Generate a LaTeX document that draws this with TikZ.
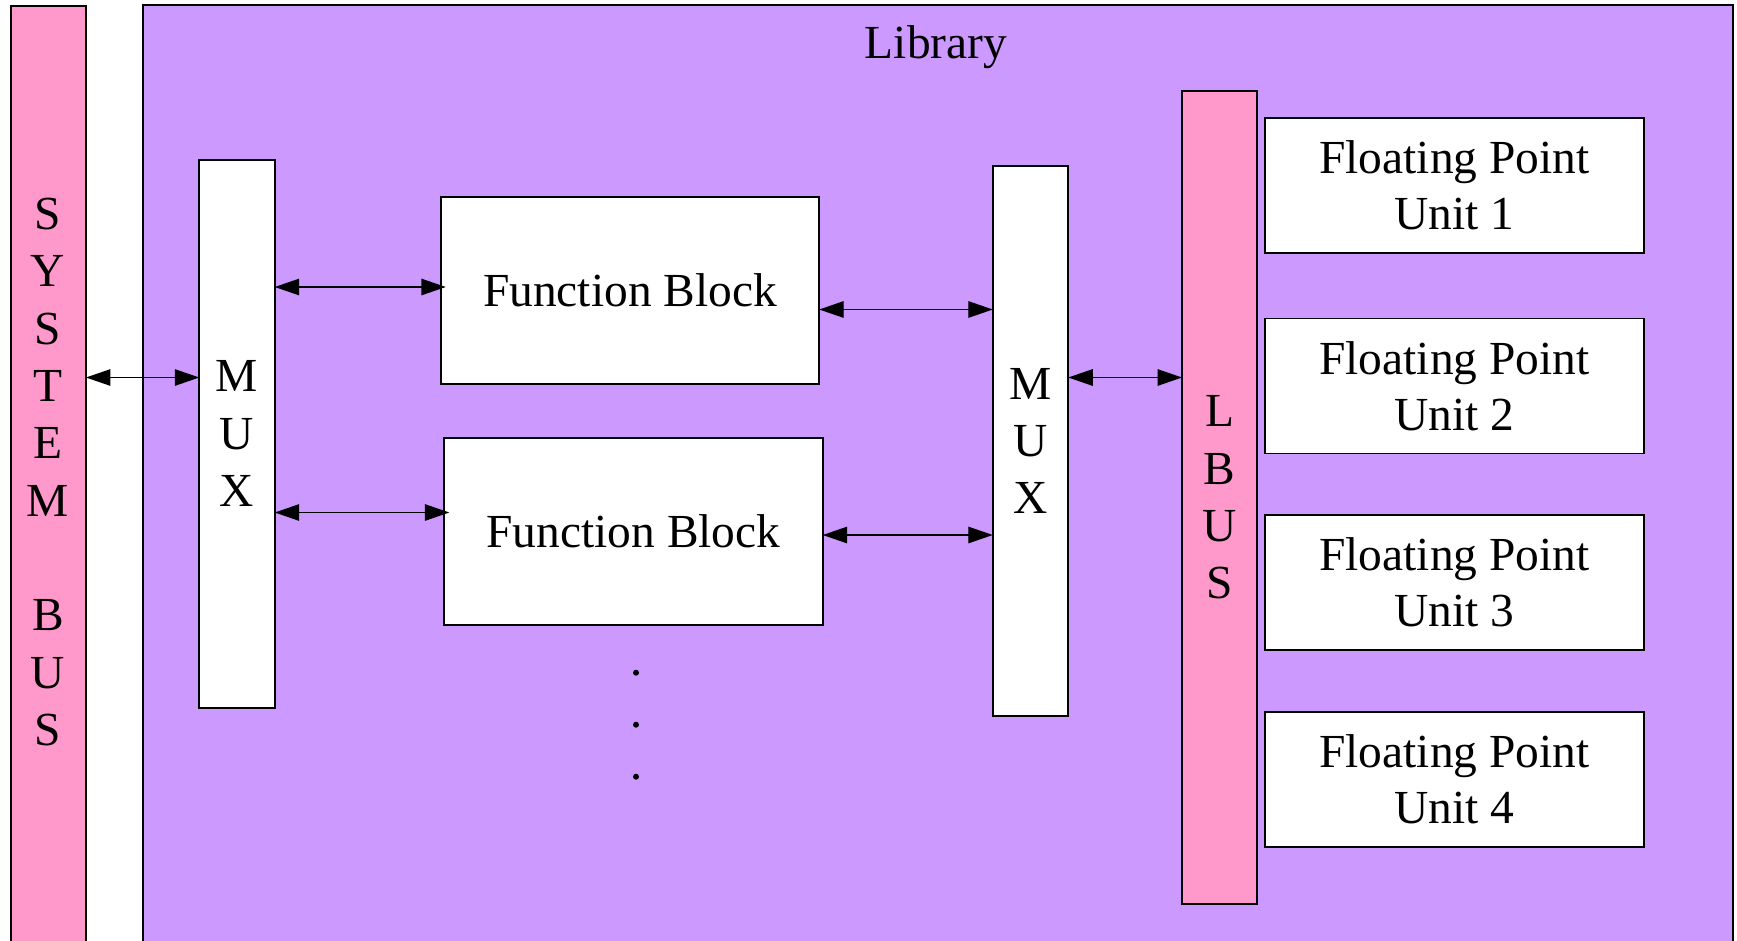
\documentclass[tikz,border=0pt]{standalone}
\usepackage{fontspec}
\setmainfont{Liberation Serif}
\usetikzlibrary{arrows.meta}

\definecolor{buspink}{RGB}{255,153,204}
\definecolor{libpurple}{RGB}{204,153,255}

\begin{document}
\begin{tikzpicture}[x=0.02cm, y=-0.02cm,
  every node/.style={inner sep=0pt, outer sep=0pt},
  txt/.style={font=\fontsize{27}{32.1}\selectfont, align=center},
  vtxt/.style={font=\fontsize{27}{32.66}\selectfont, align=center},
  box/.style={draw, line width=1.1pt, fill=white, txt},
  busbox/.style={draw, line width=1.1pt, fill=buspink, minimum width=1.5cm},
  muxbox/.style={box, vtxt, minimum width=1.51cm},
  fpubox/.style={box, minimum width=7.58cm, minimum height=2.7cm},
  fbbox/.style={box, minimum width=7.57cm, minimum height=3.745cm},
  biarrow/.style={line width=0.8pt, {Triangle[length=0.49cm, width=0.33cm]}-{Triangle[length=0.49cm, width=0.33cm]}},
  dotmark/.style={circle, fill=black, minimum size=0.12cm}
]
\useasboundingbox (0,0) rectangle (1737,940);
\clip (0,0) rectangle (1737,940);

% system bus on the far left
\node[busbox, minimum height=19.08cm] (sb) at (48.5,483) {};
\node[vtxt] (sbtext) at (48,472) {S\\Y\\S\\T\\E\\M\\~\\B\\U\\S};

% library frame
\node[draw, line width=1.2pt, fill=libpurple, minimum width=31.8cm, minimum height=19.1cm] (lib) at (938,482.5) {};
\node[txt, anchor=base] (libtitle) at (936,58) {Library};

% multiplexers
\node[muxbox, minimum height=10.97cm] (mux1) at (237,433.75) {M\\U\\X};
\node[muxbox, minimum height=11cm] (mux2) at (1030.5,441) {M\\U\\X};

% function blocks
\node[fbbox] (fb1) at (630,290.5) {Function Block};
\node[fbbox] (fb2) at (633.5,531.25) {Function Block};

% ellipsis below the function blocks
\node[dotmark] (d1) at (636,672.7) {};
\node[dotmark] (d2) at (636,724.7) {};
\node[dotmark] (d3) at (636,776.7) {};

% local bus
\node[busbox, vtxt, minimum height=16.26cm] (lbus) at (1219.5,497.5) {L\\B\\U\\S};

% floating point units
\node[fpubox] (fpu1) at (1454.5,185.5) {Floating Point\\Unit 1};
\node[fpubox] (fpu2) at (1454.5,386) {Floating Point\\Unit 2};
\node[fpubox] (fpu3) at (1454.5,582.5) {Floating Point\\Unit 3};
\node[fpubox] (fpu4) at (1454.5,779.5) {Floating Point\\Unit 4};

% connections
\draw[biarrow] (sb.east |- 0,377.5) -- (mux1.west |- 0,377.5);
\draw[biarrow] (mux1.east |- 0,287) -- ([xshift=0.1cm]fb1.west |- 0,287);
\draw[biarrow] (mux1.east |- 0,512.5) -- ([xshift=0.1cm]fb2.west |- 0,512.5);
\draw[biarrow] (fb1.east |- 0,309.5) -- (mux2.west |- 0,309.5);
\draw[biarrow] (fb2.east |- 0,535) -- (mux2.west |- 0,535);
\draw[biarrow] (mux2.east |- 0,377.5) -- (lbus.west |- 0,377.5);
\end{tikzpicture}
\end{document}
